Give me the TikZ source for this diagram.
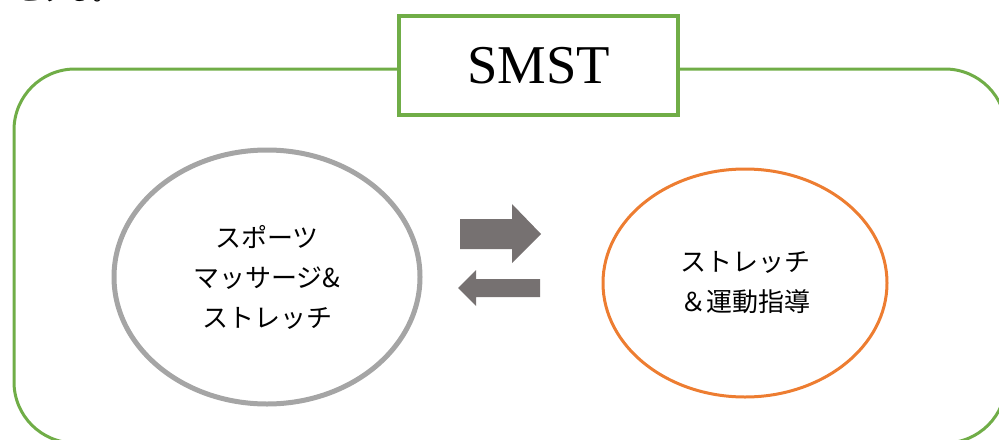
\documentclass[tikz,border=0pt]{standalone}
\usepackage{fontspec}
\setmainfont{Liberation Serif}
\newfontfamily\jafont{Noto Sans CJK JP}
\usetikzlibrary{shapes.geometric}
\definecolor{frgreen}{RGB}{112,173,71}
\definecolor{ovgray}{RGB}{165,165,165}
\definecolor{ovorange}{RGB}{237,125,49}
\definecolor{argray}{RGB}{118,113,113}

\begin{document}
\begin{tikzpicture}[x=0.75pt,y=-0.75pt,
	jtext/.style={font=\jafont\fontsize{19.5}{30}\selectfont,align=center},
	oval/.style={ellipse,inner sep=0pt,jtext},
	blockarr/.style={fill=argray}]
	\useasboundingbox (0,0) rectangle (999,439);
	\node[jtext,anchor=base west,inner sep=0pt] (note) at (15,0.5) {とする。};
	% frame and title
	\draw[frgreen,line width=2.25pt,rounded corners=45.75pt] (14,69) rectangle (1006,443);
	\node[draw=frgreen,fill=white,line width=3pt,minimum width=209.25pt,minimum height=74.25pt,
		font=\fontsize{41}{48}\selectfont] (title) at (538.5,65.5) {SMST};
	% the two ovals
	\node[oval,draw=ovgray,line width=3.75pt,minimum width=229.5pt,minimum height=190.5pt]
		(massage) at (267,277) {スポーツ\\マッサージ\&\\ストレッチ};
	\node[oval,draw=ovorange,line width=2.25pt,minimum width=213pt,minimum height=171pt]
		(coach) at (745,283) {ストレッチ\\＆運動指導};
	% arrows between
	\fill[blockarr] (460,219) -- (512,219) -- (512,204) -- (541,234) -- (512,263) -- (512,249) -- (460,249) -- cycle;
	\fill[blockarr] (540,279) -- (476,279) -- (476,270) -- (458,288) -- (476,306) -- (476,297) -- (540,297) -- cycle;
\end{tikzpicture}
\end{document}
